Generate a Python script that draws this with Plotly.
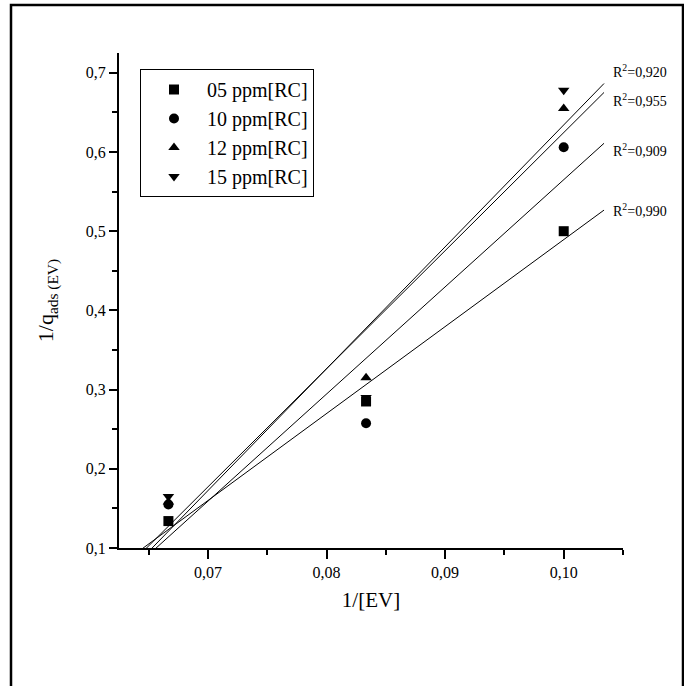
import numpy as np
import plotly.graph_objects as go

# ---- data ----
ev_conc = [15, 12, 10]                      # [EV]
inv_ev = [1.0 / c for c in ev_conc]          # 1/[EV]
series_names = ["05 ppm[RC]", "10 ppm[RC]", "12 ppm[RC]", "15 ppm[RC]"]
inv_q_05 = [0.134, 0.285, 0.500]
inv_q_10 = [0.155, 0.2575, 0.606]
inv_q_12 = [0.158, 0.315, 0.655]
inv_q_15 = [0.165, 0.290, 0.678]
r2_labels = ["R<sup>2</sup>=0,990", "R<sup>2</sup>=0,909", "R<sup>2</sup>=0,955", "R<sup>2</sup>=0,920"]

series_values = [inv_q_05, inv_q_10, inv_q_12, inv_q_15]
symbols = ["square", "circle", "triangle-up", "triangle-down"]
label_dy = [0.0, -0.008, -0.010, 0.016]

FIT_X0, FIT_X1 = 0.0625, 0.1034
FONT = "Liberation Serif"

fig = go.Figure()

# fitted lines
for i, ys in enumerate(series_values):
    slope, icpt = np.polyfit(inv_ev, ys, 1)
    xs = np.array([FIT_X0, FIT_X1])
    fig.add_trace(go.Scatter(x=xs, y=slope * xs + icpt, mode="lines",
                             line=dict(color="black", width=1),
                             showlegend=False, hoverinfo="skip"))
    fig.add_annotation(x=FIT_X1, y=slope * FIT_X1 + icpt + label_dy[i],
                       text=r2_labels[i], showarrow=False,
                       xanchor="left", yanchor="middle", xshift=7,
                       font=dict(family=FONT, size=14, color="black"))

# markers
for i, ys in enumerate(series_values):
    fig.add_trace(go.Scatter(x=inv_ev, y=ys, mode="markers", name=series_names[i],
                             marker=dict(symbol=symbols[i], color="black", size=10,
                                         line=dict(width=0))))

L, R, T, B = 119, 61, 53, 138
W, H = 684, 686
pw, ph = W - L - R, H - T - B

def px_x(p):
    return (p - L) / pw

def px_y(p):
    return (H - B - p) / ph

fig.add_shape(type="path", xref="paper", yref="paper",
              path=f"M {px_x(11)} {px_y(700)} L {px_x(11)} {px_y(5)} L {px_x(683)} {px_y(5)} L {px_x(683)} {px_y(700)}",
              line=dict(color="black", width=2.5))

axis_common = dict(showgrid=False, zeroline=False, showline=True, linecolor="black",
                   linewidth=2, ticks="outside", tickcolor="black", tickwidth=1.5,
                   tickfont=dict(family=FONT, size=16, color="black"), mirror=False)

fig.update_xaxes(range=[0.0625, 0.105], tick0=0.07, dtick=0.01, tickformat=".2f",
                 ticklen=9,
                 minor=dict(dtick=0.005, tick0=0.065, ticks="outside", ticklen=5,
                            tickcolor="black", tickwidth=1.5),
                 title=dict(text="1/[EV]", font=dict(family=FONT, size=21, color="black"),
                            standoff=12),
                 **axis_common)
fig.update_yaxes(range=[0.1, 0.725], tick0=0.1, dtick=0.1, tickformat=".1f",
                 ticklen=8,
                 minor=dict(dtick=0.05, tick0=0.1, ticks="outside", ticklen=5,
                            tickcolor="black", tickwidth=1.5),
                 title=dict(text="1/q<sub>ads (EV)</sub>",
                            font=dict(family=FONT, size=22, color="black"), standoff=26),
                 **axis_common)

fig.update_layout(
    width=W, height=H,
    margin=dict(l=L, r=R, t=T, b=B),
    plot_bgcolor="white", paper_bgcolor="white",
    separators=", ",
    font=dict(family=FONT, color="black"),
    legend=dict(x=px_x(140), y=px_y(69), xanchor="left", yanchor="top",
                bordercolor="black", borderwidth=1, bgcolor="white",
                font=dict(family=FONT, size=20, color="black"),
                itemwidth=56, tracegroupgap=0),
)

fig.write_html("out.html", config={"displayModeBar": False},
               post_script="document.body.style.margin='0px';")
